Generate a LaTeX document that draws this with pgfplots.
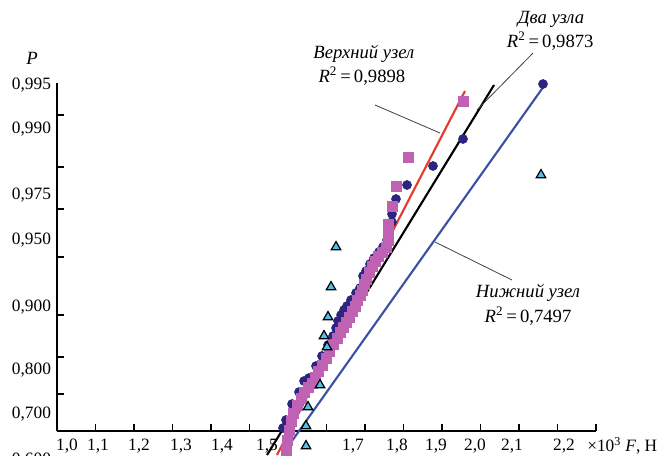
\documentclass[border=0pt]{standalone}
\usepackage{pgfplots}
\pgfplotsset{compat=1.18}
\usepackage{fontspec}
\setmainfont{Liberation Serif}
\definecolor{myred}{HTML}{E53A2E}
\definecolor{myblue}{HTML}{3B52A3}
\definecolor{mymag}{HTML}{C062B4}
\definecolor{mynavy}{HTML}{2A2580}
\definecolor{mycyan}{HTML}{4FC1E9}
\begin{document}
\fontsize{13}{15.6}\selectfont
\begin{tikzpicture}[ann/.style={font=\fontsize{14}{16.8}\selectfont}]
\begin{axis}[
  scale only axis, width=404.25pt, height=261pt,
  xmin=1.0, xmax=2.4, ymin=0, ymax=348,
  axis x line=bottom, axis y line=left,
  axis line style={-, line width=1.3pt},
  clip=false,
  xtick={1.0,1.1,1.2,1.3,1.4,1.5,1.6,1.7,1.8,1.9,2.0,2.1,2.2,2.3,2.4},
  xticklabels={},
  ytick={37,74,116,174,222,264,316},
  yticklabels={},
  tick align=inside, major tick length=5pt,
  tick style={line width=1pt, black},
  extra x ticks={1.026,1.1065,1.213,1.3221,1.4286,1.5455,1.7688,1.8831,1.9844,2.0857,2.1818,2.3169},
  extra x tick labels={{1,0},{1,1},{1,2},{1,3},{1,4},{1,5},{1,7},{1,8},{1,9},{2,0},{2,1},{2,2}},
  extra x tick style={major tick length=0pt, xticklabel style={yshift=-1.5pt}},
  extra y ticks={17,61,124,191,236,302,346},
  extra y tick labels={{0,700},{0,800},{0,900},{0,950},{0,975},{0,990},{0,995}},
  extra y tick style={major tick length=0pt},
]
\coordinate (O) at (axis cs:1.0,0);
% Два узла (circles)
\addplot[only marks, mark=*, mark size=3.4pt, mark options={fill=mynavy, draw=mynavy}] coordinates {
(1.5870,3) (1.5948,11) (1.6104,27) (1.6286,39) (1.6416,50) (1.6545,53) (1.6727,65)
(1.6883,75) (1.7039,86) (1.7169,95) (1.7247,103) (1.7299,110) (1.7377,116) (1.7455,121)
(1.7532,125) (1.7636,131) (1.7766,138) (1.7870,143) (1.7948,155) (1.8026,160) (1.8130,167)
(1.8234,173) (1.8364,179) (1.8468,184) (1.8571,191) (1.8623,198) (1.8701,209) (1.8701,217)
(1.8805,232) (1.9091,246) (1.9766,265) (2.0545,292) (2.2623,347)
};
% Верхний узел (squares)
\addplot[only marks, mark=square*, mark size=3.8pt, mark options={fill=mymag, draw=mymag}] coordinates {
(1.5948,-19) (1.5974,-9) (1.6026,1) (1.6078,10) (1.6130,18) (1.6234,26) (1.6338,33)
(1.6416,39) (1.6520,44) (1.6623,48) (1.6700,54) (1.6779,60) (1.6883,66) (1.6987,73)
(1.7065,80) (1.7169,87) (1.7273,93) (1.7351,99) (1.7429,104) (1.7506,109) (1.7584,114)
(1.7662,120) (1.7740,125) (1.7792,131) (1.7870,136) (1.7922,141) (1.7974,147) (1.8026,152)
(1.8104,159) (1.8182,165) (1.8260,170) (1.8338,175) (1.8442,179) (1.8545,184) (1.8597,191)
(1.8597,198) (1.8597,207) (1.8701,225) (1.8805,245) (1.9117,274) (2.0545,330)
};
% fitted lines
\addplot[black, line width=1.6pt] coordinates {(1.5455,-24) (2.1351,346)};
\addplot[myred, line width=1.6pt] coordinates {(1.5714,-24) (2.0597,340)};
\addplot[myblue, line width=1.6pt] coordinates {(1.5844,-24) (2.2649,345)};
% Нижний узел (triangles)
\addplot[only marks, mark=triangle*, mark size=4.1pt, mark options={fill=mycyan, draw=black, line width=0.9pt}] coordinates {
(1.7247,184) (1.7117,144) (1.7039,114) (1.6935,95) (1.7013,84) (1.6831,46)
(1.6519,24) (1.6468,5) (1.6468,-15) (2.2571,256)
};
% leaders
\draw[black!75, line width=0.6pt] (axis cs:1.826,326) -- (axis cs:1.9948,298);
\draw[black!75, line width=0.6pt] (axis cs:2.2364,378) -- (axis cs:2.0909,321);
\draw[black!75, line width=0.6pt] (axis cs:1.9818,189) -- (axis cs:2.1818,151);
% annotations
\node[ann] at (axis cs:1.797,377) {\textit{Верхний узел}};
\node[ann] at (axis cs:1.792,355) {\textit{R}\textsuperscript{2}\,=\,0,9898};
\node[ann] at (axis cs:2.283,412) {\textit{Два узла}};
\node[ann] at (axis cs:2.281,390) {\textit{R}\textsuperscript{2}\,=\,0,9873};
\node[ann] at (axis cs:2.2234,138) {\textit{Нижний узел}};
\node[ann] at (axis cs:2.2234,115) {\textit{R}\textsuperscript{2}\,=\,0,7497};
\node[ann] at (axis cs:0.935,373) {\textit{P}};
\node[anchor=west, inner sep=0pt] at (axis cs:2.3766,-15) {×10\textsuperscript{3} \textit{F}, Н};
\node[anchor=east] at (axis cs:1.0,-29) {0,600};
\end{axis}
\pgfresetboundingbox
\path[use as bounding box] ([shift={(-42.75pt,-18pt)}]O) rectangle ([shift={(451.5pt,323.25pt)}]O);
\end{tikzpicture}
\end{document}
